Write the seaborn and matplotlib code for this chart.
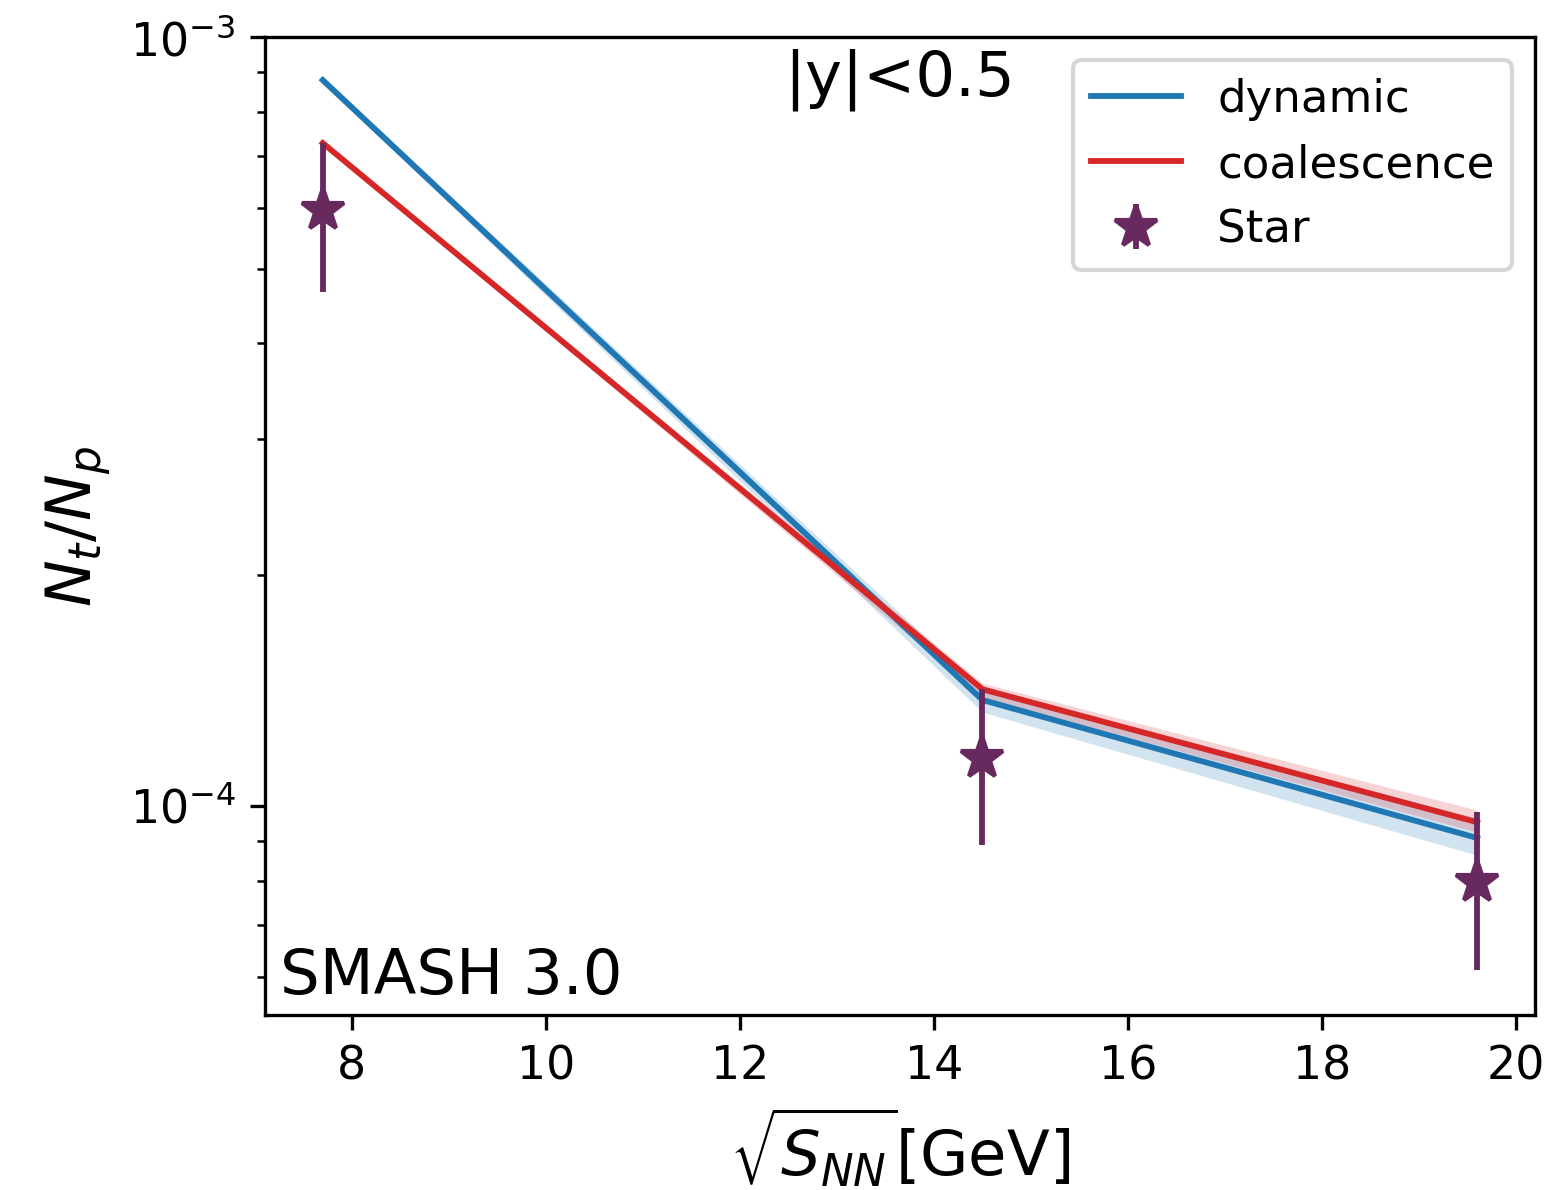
import numpy as np
import pandas as pd
import matplotlib
matplotlib.use("Agg")
import matplotlib.pyplot as plt
import seaborn as sns
from matplotlib.lines import Line2D

# ---- data ----
energy = [7.7, 14.5, 19.6]
dynamic = [8.79e-4, 1.374e-4, 9.09e-5]
dynamic_lo = [8.71e-4, 1.325e-4, 8.63e-5]
dynamic_hi = [8.88e-4, 1.416e-4, 9.65e-5]
coalescence = [7.28e-4, 1.419e-4, 9.53e-5]
coalescence_lo = [7.24e-4, 1.386e-4, 9.25e-5]
coalescence_hi = [7.32e-4, 1.445e-4, 9.88e-5]
star = [5.96e-4, 1.154e-4, 7.96e-5]
star_lo = [4.66e-4, 8.9e-5, 6.12e-5]
star_hi = [7.28e-4, 1.42e-4, 9.82e-5]

blue = "#1f77b4"
red = "#d62728"
purple = "#682a5e"

DPI = 300
fig = plt.figure(figsize=(1547 / DPI, 1190 / DPI), dpi=DPI)
ax = fig.add_axes([0.1713, 0.147, 0.8209, 0.8219])

df = pd.DataFrame({"x": energy * 2,
                   "y": dynamic + coalescence,
                   "model": ["dynamic"] * 3 + ["coalescence"] * 3})
sns.lineplot(data=df, x="x", y="y", hue="model",
             palette={"dynamic": blue, "coalescence": red},
             linewidth=1.4, ax=ax, legend=False)
ax.fill_between(energy, dynamic_lo, dynamic_hi, color=blue, alpha=0.2, lw=0)
ax.fill_between(energy, coalescence_lo, coalescence_hi, color=red, alpha=0.2, lw=0)

yerr = [np.array(star) - np.array(star_lo), np.array(star_hi) - np.array(star)]
eb = ax.errorbar(energy, star, yerr=yerr, fmt="*", color=purple,
                 markersize=10.7, elinewidth=1.4, capsize=0, zorder=5)

ax.set_yscale("log")
ax.set_xlim(7.105, 20.195)
ax.set_ylim(5.35e-5, 1e-3)
ax.set_xticks([8, 10, 12, 14, 16, 18, 20])
ax.tick_params(labelsize=11)

ax.set_xlabel(r"$\sqrt{S_{NN}}$[GeV]", fontsize=15)
ax.set_ylabel(r"$N_t/N_p$", fontsize=15)

ax.text(0.5, 0.988, "|y|<0.5", transform=ax.transAxes, ha="center", va="top", fontsize=15)
ax.text(0.012, 0.008, "SMASH 3.0", transform=ax.transAxes, ha="left", va="bottom", fontsize=15)

handles = [Line2D([], [], color=blue, lw=1.4), Line2D([], [], color=red, lw=1.4), eb]
ax.legend(handles, ["dynamic", "coalescence", "Star"], loc="upper right", fontsize=10.8)

for s in ax.spines.values():
    s.set_color("black")

fig.savefig("out.png", dpi=DPI)
